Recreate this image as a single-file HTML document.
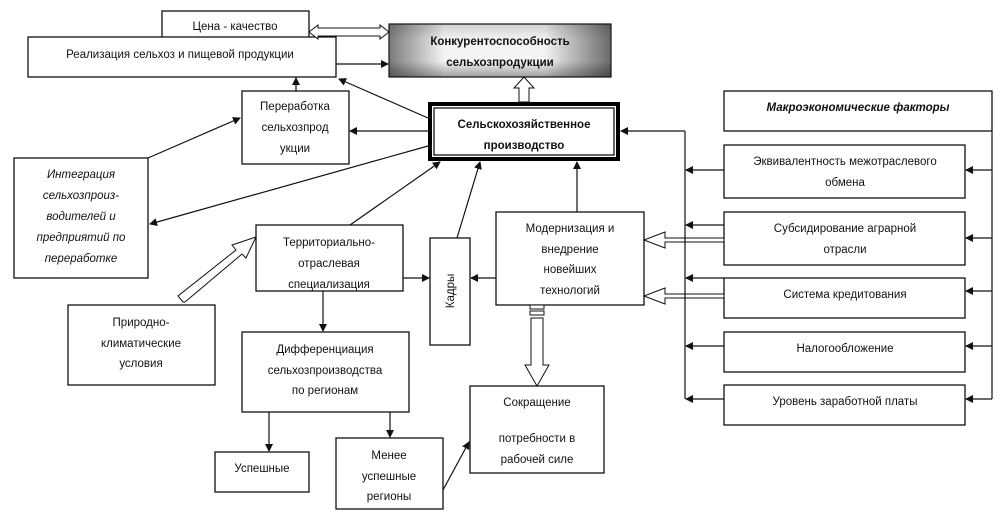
<!DOCTYPE html>
<html><head><meta charset="utf-8"><style>
html,body{margin:0;padding:0;background:#fff;}
svg{display:block;}
text{font-family:"Liberation Sans","DejaVu Sans",sans-serif;font-size:11.5px;fill:#111;}
.b{font-weight:bold;}
.i{font-style:italic;}
</style></head><body>
<svg width="1006" height="527" viewBox="0 0 1006 527" xmlns="http://www.w3.org/2000/svg">
<defs>
<marker id="a" markerWidth="8" markerHeight="8" refX="7" refY="4" orient="auto" markerUnits="userSpaceOnUse"><path d="M0,0 L8,4 L0,8 z" fill="#111"/></marker>
<linearGradient id="g" x1="0" y1="0" x2="1" y2="0">
<stop offset="0" stop-color="#7a7a7a"/><stop offset="0.25" stop-color="#f4f4f4"/><stop offset="0.7" stop-color="#f4f4f4"/><stop offset="1" stop-color="#6a6a6a"/></linearGradient>
<linearGradient id="g2" x1="0" y1="0" x2="0" y2="1">
<stop offset="0" stop-color="#000" stop-opacity="0.15"/><stop offset="0.3" stop-color="#000" stop-opacity="0"/><stop offset="0.7" stop-color="#000" stop-opacity="0"/><stop offset="1" stop-color="#000" stop-opacity="0.35"/></linearGradient>
</defs>
<g fill="#fff" stroke="#111" stroke-width="1.3">
<rect x="162" y="11" width="147" height="30"/>
<rect x="28" y="37" width="308" height="40"/>
<rect x="242" y="91" width="107" height="73"/>
<rect x="14" y="158" width="134" height="120"/>
<rect x="256" y="225" width="147" height="66"/>
<rect x="430" y="238" width="40" height="107"/>
<rect x="496" y="212" width="148" height="93"/>
<rect x="68" y="305" width="147" height="80"/>
<rect x="242" y="332" width="167" height="80"/>
<rect x="215" y="452" width="94" height="40"/>
<rect x="336" y="438" width="107" height="71"/>
<rect x="470" y="386" width="134" height="87"/>
<rect x="724" y="91" width="268" height="40"/>
<rect x="724" y="145" width="241" height="53"/>
<rect x="724" y="212" width="241" height="53"/>
<rect x="724" y="278" width="241" height="40"/>
<rect x="724" y="332" width="241" height="40"/>
<rect x="724" y="385" width="241" height="40"/>
</g>
<rect x="389" y="24" width="222" height="53" fill="url(#g)" stroke="#222" stroke-width="1.3"/>
<rect x="389" y="24" width="222" height="53" fill="url(#g2)"/>
<rect x="430" y="104" width="188" height="55" fill="#fff" stroke="#000" stroke-width="4"/>
<rect x="434" y="108" width="180" height="47" fill="none" stroke="#000" stroke-width="1.2"/>
<g fill="#fff" stroke="#111" stroke-width="1">
<path d="M309,32 L318,25 L318,28 L380,28 L380,25 L389,32 L380,39 L380,36 L318,36 L318,39 z"/>
<path d="M519,102 L519,88 L514,88 L524,77 L534,88 L529,88 L529,102 z"/>
<path d="M183,302 L178,296 L236,250 L232,245 L256,237 L246,258 L242,254 L185,302 z"/>
<path d="M724,242 L665,242 L665,248 L644,240 L665,232 L665,238 L724,238 z"/>
<path d="M724,298 L665,298 L665,304 L644,296 L665,288 L665,294 L724,294 z"/>
<path d="M531,318 L543,318 L543,365 L549,365 L537,386 L525,365 L531,365 z"/>
</g>
<rect x="530" y="305" width="14" height="4" fill="#fff" stroke="#111"/>
<rect x="530" y="311" width="14" height="4" fill="#fff" stroke="#111"/>
<g stroke="#111" stroke-width="1.2" fill="none" marker-end="url(#a)">
<line x1="336" y1="64" x2="388" y2="64"/>
<line x1="296" y1="91" x2="296" y2="78"/>
<line x1="428" y1="118" x2="339" y2="79"/>
<line x1="428" y1="131" x2="350" y2="131"/>
<line x1="148" y1="158" x2="240" y2="118"/>
<line x1="428" y1="146" x2="150" y2="224"/>
<line x1="350" y1="225" x2="440" y2="162"/>
<line x1="457" y1="238" x2="480" y2="162"/>
<line x1="577" y1="212" x2="577" y2="162"/>
<line x1="685" y1="131" x2="621" y2="131"/>
<line x1="403" y1="278" x2="429" y2="278"/>
<line x1="496" y1="278" x2="471" y2="278"/>
<line x1="323" y1="291" x2="323" y2="331"/>
<line x1="269" y1="412" x2="269" y2="451"/>
<line x1="390" y1="412" x2="390" y2="437"/>
<line x1="443" y1="490" x2="469" y2="442"/>
<line x1="724" y1="170" x2="686" y2="170"/>
<line x1="724" y1="225" x2="686" y2="225"/>
<line x1="724" y1="278" x2="686" y2="278"/>
<line x1="724" y1="346" x2="686" y2="346"/>
<line x1="724" y1="399" x2="686" y2="399"/>
<line x1="992" y1="170" x2="966" y2="170"/>
<line x1="992" y1="238" x2="966" y2="238"/>
<line x1="992" y1="291" x2="966" y2="291"/>
<line x1="992" y1="346" x2="966" y2="346"/>
<line x1="992" y1="399" x2="966" y2="399"/>
</g>
<g stroke="#111" stroke-width="1.2">
<line x1="685" y1="131" x2="685" y2="399"/>
<line x1="992" y1="131" x2="992" y2="399"/>
</g>
<g text-anchor="middle">
<text x="235" y="30">Цена - качество</text>
<text x="180" y="58">Реализация сельхоз и пищевой продукции</text>
<text x="500" y="45" class="b">Конкурентоспособность</text>
<text x="500" y="66" class="b">сельхозпродукции</text>
<text x="524" y="128" class="b">Сельскохозяйственное</text>
<text x="524" y="149" class="b">производство</text>
<text x="295" y="110">Переработка</text>
<text x="295" y="131">сельхозпрод</text>
<text x="295" y="152">укции</text>
<text x="81" y="178" class="i">Интеграция</text>
<text x="81" y="199" class="i">сельхозпроиз-</text>
<text x="81" y="220" class="i">водителей и</text>
<text x="81" y="241" class="i">предприятий по</text>
<text x="81" y="262" class="i">переработке</text>
<text x="329" y="246">Территориально-</text>
<text x="329" y="267">отраслевая</text>
<text x="329" y="288">специализация</text>
<text x="570" y="232">Модернизация и</text>
<text x="570" y="253">внедрение</text>
<text x="570" y="273">новейших</text>
<text x="570" y="294">технологий</text>
<text x="141" y="326">Природно-</text>
<text x="141" y="347">климатические</text>
<text x="141" y="367">условия</text>
<text x="325" y="353">Дифференциация</text>
<text x="325" y="374">сельхозпроизводства</text>
<text x="325" y="394">по регионам</text>
<text x="262" y="472">Успешные</text>
<text x="389" y="459">Менее</text>
<text x="389" y="480">успешные</text>
<text x="389" y="500">регионы</text>
<text x="537" y="406">Сокращение</text>
<text x="537" y="442">потребности в</text>
<text x="537" y="463">рабочей силе</text>
<text x="858" y="111" class="b i">Макроэкономические факторы</text>
<text x="845" y="165">Эквивалентность межотраслевого</text>
<text x="845" y="186">обмена</text>
<text x="845" y="232">Субсидирование аграрной</text>
<text x="845" y="253">отрасли</text>
<text x="845" y="298">Система кредитования</text>
<text x="845" y="352">Налогообложение</text>
<text x="845" y="405">Уровень заработной платы</text>
<text x="0" y="0" transform="translate(454,291) rotate(-90)">Кадры</text>
</g>
</svg>
</body></html>
